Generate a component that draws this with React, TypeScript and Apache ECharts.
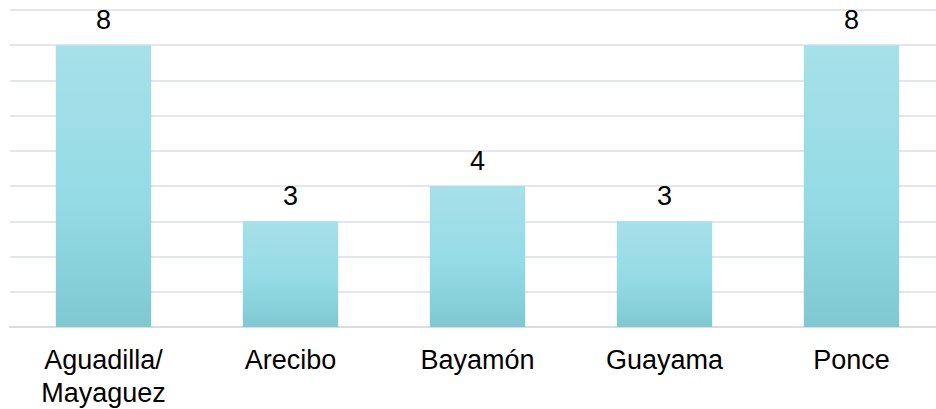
import React, { useEffect, useRef } from "react";
import * as echarts from "echarts";

const categories = ["Aguadilla/\nMayaguez", "Arecibo", "Bayamón", "Guayama", "Ponce"];
const values = [8, 3, 4, 3, 8];

export default function App() {
  const ref = useRef<HTMLDivElement>(null);
  useEffect(() => {
    const chart = echarts.init(ref.current!, undefined, { renderer: "svg" });
    chart.setOption({
      animation: false,
      grid: { left: 10, top: 10, width: 935, height: 318.5, containLabel: false },
      xAxis: {
        type: "category",
        data: categories,
        axisTick: { show: false },
        axisLine: { show: true, lineStyle: { color: "#d9dde3", width: 2 } },
        axisLabel: {
          color: "#000",
          fontSize: 27,
          fontFamily: "Liberation Sans",
          lineHeight: 33,
          margin: 16,
          interval: 0,
        },
      },
      yAxis: {
        type: "value",
        min: 0,
        max: 9,
        interval: 1,
        axisLabel: { show: false },
        axisLine: { show: false },
        axisTick: { show: false },
        splitLine: { lineStyle: { color: "#e3e6ee", width: 2 } },
      },
      series: [
        {
          type: "bar",
          data: values,
          barCategoryGap: "49%",
          itemStyle: {
            color: new echarts.graphic.LinearGradient(0, 0, 0, 1, [
              { offset: 0, color: "#a7e0e9" },
              { offset: 0.55, color: "#94dbe5" },
              { offset: 1, color: "#7fc8d2" },
            ]),
          },
          label: {
            show: true,
            position: "top",
            distance: 12,
            color: "#000",
            fontSize: 27,
            fontFamily: "Liberation Sans",
          },
        },
      ],
    });
    return () => chart.dispose();
  }, []);
  return (
    <div style={{ position: "fixed", left: 0, top: 0, width: 936, height: 409, overflow: "hidden", background: "#fff" }}>
      <div ref={ref} style={{ width: 960, height: 409 }} />
    </div>
  );
}
